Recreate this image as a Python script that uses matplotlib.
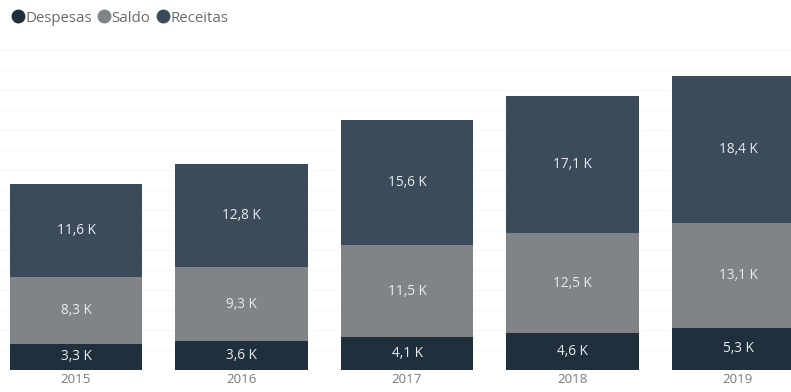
import matplotlib.pyplot as plt
from matplotlib.lines import Line2D

plt.rcParams['font.family'] = ['Open Sans', 'DejaVu Sans']

anos = ['2015', '2016', '2017', '2018', '2019']
despesas = [3.3, 3.6, 4.1, 4.6, 5.3]
saldo = [8.3, 9.3, 11.5, 12.5, 13.1]
receitas = [11.6, 12.8, 15.6, 17.1, 18.4]

series = [('Despesas', despesas, '#1f2f3c'),
          ('Saldo', saldo, '#818486'),
          ('Receitas', receitas, '#3b4b59')]

fig = plt.figure(figsize=(7.91, 3.92), dpi=100)
ax = fig.add_axes([0, 22 / 392, 1, 330 / 392])

x = list(range(len(anos)))
base = [0.0] * len(anos)
for nome, vals, cor in series:
    ax.bar(x, vals, width=0.8, bottom=base, color=cor, edgecolor='none', zorder=2)
    for xi, b, v in zip(x, base, vals):
        ax.text(xi, b + v / 2, f'{v:.1f} K'.replace('.', ','), ha='center', va='center',
                color='#e9ecee', fontsize=9.8, zorder=3)
    base = [b + v for b, v in zip(base, vals)]

ax.set_xlim(-0.459, 4.32)
ax.set_ylim(0, 41.25)
for y in [2.5 * k for k in range(1, 17)]:
    ax.axhline(y, color='#f8f8f8', lw=0.8, zorder=0)
for s in ax.spines.values():
    s.set_visible(False)
ax.set_yticks([])
ax.set_xticks(x)
ax.set_xticklabels(anos, color='#7a7a7a', fontsize=9.6)
ax.tick_params(axis='x', length=0, pad=2)

handles = [Line2D([], [], marker='o', ls='none', color=c, markersize=9) for _, _, c in series]
fig.legend(handles, [n for n, _, _ in series], loc='center left', bbox_to_anchor=(0.0, 1 - 18 / 392),
           ncol=3, frameon=False, handletextpad=0.0, columnspacing=0.3, borderaxespad=0.3,
           prop={'size': 10.8}, labelcolor='#6a6a6a', handlelength=1.0)

fig.savefig('out.png', dpi=100)
